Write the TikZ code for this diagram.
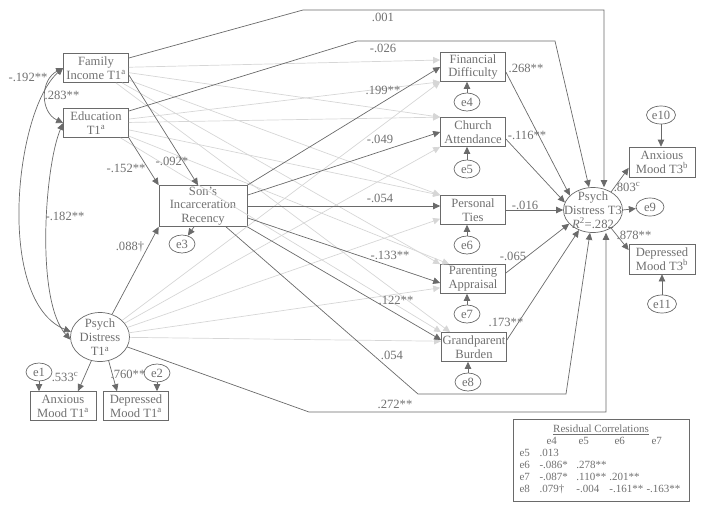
\documentclass[tikz,border=0pt]{standalone}
\usepackage{fontspec}
\setmainfont{Liberation Serif}
\usetikzlibrary{shapes.geometric,arrows.meta,positioning}
\definecolor{linegray}{HTML}{6A6A6A}
\definecolor{textgray}{HTML}{707070}
\definecolor{faintgray}{HTML}{D6D6D6}
\tikzset{
  var/.style={draw=linegray, rectangle, align=center, text=textgray, line width=0.7pt,
    minimum width=65pt, minimum height=29pt, inner sep=1pt, font=\fontsize{12.6}{13.8}\selectfont},
  latent/.style={draw=linegray, ellipse, align=center, text=textgray, line width=0.7pt,
    inner sep=-10pt, font=\fontsize{12.6}{14}\selectfont},
  err/.style={draw=linegray, ellipse, text=textgray, line width=0.7pt,
    minimum width=26pt, minimum height=18pt, inner sep=0pt, font=\fontsize{12.6}{13}\selectfont},
  reg/.style={draw=linegray, line width=0.7pt, -{Triangle[length=7pt,width=6.5pt]}},
  faint/.style={draw=faintgray, line width=0.7pt, -{Triangle[length=7pt,width=6.5pt]}},
  cov/.style={draw=linegray, line width=0.7pt,
    {Triangle[length=7pt,width=6.5pt]}-{Triangle[length=7pt,width=6.5pt]}},
  coef/.style={text=textgray, inner sep=0.5pt, font=\fontsize{12.6}{13}\selectfont}
}
\begin{document}
\begin{tikzpicture}[x=1pt,y=-1pt]
  \useasboundingbox (0,0) rectangle (704,509);

  % Time 1 variables
  \node[var] (inc) at (96,68) {Family\\Income T1\textsuperscript{a}};
  \node[var] (edu) at (96,123) {Education\\T1\textsuperscript{a}};
  \node[latent, minimum width=59pt, minimum height=49pt] (pdt1) at (100,337) {Psych\\Distress\\T1\textsuperscript{a}};
  \node[var, minimum width=66pt] (anx1) at (63,406) {Anxious\\Mood T1\textsuperscript{a}};
  \node[var] (dep1) at (136,406) {Depressed\\Mood T1\textsuperscript{a}};
  \node[err] (e1) at (39,372) {e1};
  \node[err] (e2) at (157,373) {e2};

  % Son's incarceration
  \node[var, minimum width=88pt, minimum height=41pt] (son) at (203,206) {Son’s\\Incarceration\\Recency};
  \node[err] (e3) at (182,244) {e3};

  % Mediators
  \node[var] (fin) at (473,67) {Financial\\Difficulty};
  \node[var] (chu) at (473,132) {Church\\Attendance};
  \node[var] (per) at (473,210) {Personal\\Ties};
  \node[var] (par) at (473,279) {Parenting\\Appraisal};
  \node[var] (gra) at (474,347) {Grandparent\\Burden};
  \node[err] (e4) at (467,102) {e4};
  \node[err] (e5) at (467,169) {e5};
  \node[err] (e6) at (467,245) {e6};
  \node[err] (e7) at (467,314) {e7};
  \node[err] (e8) at (468,382) {e8};

  % Time 3 outcome
  \node[latent, minimum width=59pt, minimum height=45pt] (pdt3) at (593,210) {Psych\\Distress T3\\\textit{R}\textsuperscript{2}=.282};
  \node[err, minimum width=28pt] (e9) at (650,207) {e9};
  \node[var, minimum width=66pt, minimum height=30pt] (anx3) at (662,162) {Anxious\\Mood T3\textsuperscript{b}};
  \node[var, minimum width=66pt, minimum height=30pt] (dep3) at (662,259) {Depressed\\Mood T3\textsuperscript{b}};
  \node[err, minimum width=29pt] (e10) at (661,115) {e10};
  \node[err, minimum width=29pt] (e11) at (662,304) {e11};

  % nonsignificant paths (light)
  \foreach \t in {fin.168, chu.north west, per.north west, par.north west, gra.148}
    \draw[faint] (inc) -- (\t);
  \foreach \t in {fin.south west, chu.north west, per.north west, par.148, gra.north west}
    \draw[faint] (edu) -- (\t);
  \foreach \t in {fin.south west, chu.south west, per.195, par.195, gra.170}
    \draw[faint] (pdt1) -- (\t);

  % correlations among T1 variables
  \draw[cov] (inc.west) .. controls (40,80) and (40,112) .. (edu.west);
  \draw[cov] (inc.west) .. controls (15,110) and (-5,300) .. (pdt1.170);
  \draw[cov] (edu.west) .. controls (45,165) and (35,300) .. (pdt1.185);

  % paths to son's incarceration
  \draw[reg] ([yshift=-7pt]inc.east) -- ([xshift=-5pt]son.north);
  \draw[reg] (edu.south east) -- (son.north west);
  \draw[reg] (pdt1) -- (son.south west);
  \draw[reg] ([xshift=-9pt]son.south) -- (e3);

  % son's incarceration to mediators
  \draw[reg] (son.north east) -- (fin.west);
  \draw[reg] ([yshift=-10pt]son.north east) -- (chu.west);
  \draw[reg] (son.east) -- (son.east -| per.west);
  \draw[reg] ([yshift=9pt]son.south east) -- ([yshift=-4pt]par.west);
  \draw[reg] (son.south east) -- ([yshift=7pt]gra.west);

  % mediators to T3
  \draw[reg] ([yshift=-5pt]fin.east) -- (pdt3.148);
  \draw[reg] ([yshift=-7pt]chu.east) -- (pdt3.165);
  \draw[reg] (per.east) -- (pdt3.west);
  \draw[reg] ([yshift=6pt]par.east) -- (pdt3.210);
  \draw[reg] ([yshift=7pt]gra.east) -- (pdt3.235);

  % direct paths to T3
  \draw[reg] ([yshift=10pt]inc.east) -- (303,10) -| ([xshift=11pt]pdt3.north);
  \draw[reg] ([yshift=12pt]edu.east) -- (357,41) -- (555,41) -- ([xshift=-4pt]pdt3.north);
  \draw[reg] ([xshift=23pt]son.south) -- (418,394) -- (566,394) -- ([xshift=-3pt]pdt3.south);
  \draw[reg] (pdt1.-20) -- (309,412) -- (606,412) -- ([xshift=13pt]pdt3.south);

  % measurement parts
  \draw[reg] (pdt1.250) -- ([xshift=15pt]anx1.north);
  \draw[reg] (pdt1.290) -- ([xshift=-19pt]dep1.north);
  \draw[reg] (e1) -- (e1 |- anx1.north);
  \draw[reg] (e2) -- (e2 |- dep1.north);
  \draw[reg] (pdt3.45) -- (anx3.190);
  \draw[reg] (pdt3.east) -- (e9);
  \draw[reg] (pdt3.-45) -- (dep3.165);
  \draw[reg] (e10) -- (e10 |- anx3.north);
  \draw[reg] (e11) -- (e11 |- dep3.south);
  \foreach \e/\m in {e4/fin, e5/chu, e6/per, e7/par, e8/gra}
    \draw[reg] (\e) -- (\e |- \m.south);

  % coefficients
  \node[coef] (c-inc-t3) at (383,17) {.001};
  \node[coef] (c-edu-t3) at (383,48) {-.026};
  \node[coef] (c-son-fin) at (383,90) {.199**};
  \node[coef] (c-son-chu) at (380,139) {-.049};
  \node[coef] (c-son-per) at (380,198) {-.054};
  \node[coef] (c-son-par) at (390,255) {-.133**};
  \node[coef] (c-son-gra) at (396,300) {.122**};
  \node[coef] (c-son-t3) at (392,355) {.054};
  \node[coef] (c-t1-t3) at (395,404) {.272**};
  \node[coef] (c-fin-t3) at (526,68) {.268**};
  \node[coef] (c-chu-t3) at (527,135) {-.116**};
  \node[coef] (c-per-t3) at (525,205) {-.016};
  \node[coef] (c-par-t3) at (513,256) {-.065};
  \node[coef] (c-gra-t3) at (506,322) {.173**};
  \node[coef] (c-anx3) at (627,187) {.803\textsuperscript{c}};
  \node[coef] (c-dep3) at (634,235) {.878**};
  \node[coef] (c-inc-t1) at (28,77) {-.192**};
  \node[coef] (c-inc-edu) at (62,95) {.283**};
  \node[coef] (c-edu-t1) at (65,216) {-.182**};
  \node[coef] (c-t1-son) at (130,247) {.088†};
  \node[coef] (c-edu-son) at (126,168) {-.152**};
  \node[coef] (c-inc-son) at (172,161) {-.092*};
  \node[coef] (c-anx1) at (65,377) {.533\textsuperscript{c}};
  \node[coef] (c-dep1) at (128,374) {.760**};

  % residual correlation table
  \node[draw=linegray, line width=0.7pt, text=textgray, inner sep=0pt,
        minimum width=176pt, minimum height=82pt, font=\fontsize{11}{12}\selectfont]
    (rescor) at (601,460) {%
    \setlength{\tabcolsep}{0pt}%
    \begin{tabular}{@{}p{20pt}p{37pt}p{33pt}p{37pt}p{36pt}@{}}
      \multicolumn{5}{c}{\underline{Residual Correlations}}\\
         & \hspace{7pt}e4 & \hspace{2pt}e5 & \hspace{5pt}e6 & \hspace{5pt}e7\\
      e5 & .013\\
      e6 & -.086* & .278**\\
      e7 & -.087* & .110** & .201**\\
      e8 & .079† & -.004 & -.161** & -.163**\\
    \end{tabular}};
\end{tikzpicture}
\end{document}
